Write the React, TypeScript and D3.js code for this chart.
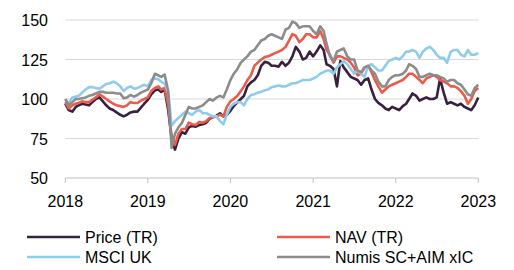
import * as d3 from "d3";

// semi-monthly values, Jan 2018 .. Jan 2023
const price = [
  97, 93, 92, 95, 96, 97, 96.5, 96, 98, 100, 101, 98.5, 96, 94, 93, 91.5, 90, 89, 90, 91.5, 92, 92, 94.5, 97,
  99.5, 103, 105.5, 106, 104.5, 106, 93, 75, 68, 75, 79, 78, 82, 83, 82.5, 83.5, 84, 85, 87.5, 88.5, 89.5, 91, 89, 90,
  92.5, 95.5, 98, 100, 102, 108, 110.5, 112, 115, 121, 123.5, 123, 121, 121, 120.5, 123.5, 121, 123, 127, 133, 130, 125, 126, 130,
  127, 130, 134, 131, 122, 121, 119, 108, 124, 120, 117, 114, 113, 112, 109, 112, 113, 106, 100, 97.5, 96, 94, 93, 95,
  94, 93, 95.5, 97, 100, 103.5, 102, 99, 100, 101, 100, 100, 101, 113, 104, 97, 98, 97, 96, 97, 95, 94, 93, 96,
  101,
];
const nav = [
  98, 94, 96, 97, 97.5, 98.5, 98, 98, 99.5, 101, 103, 101.5, 100, 98.5, 97, 96, 95.5, 95, 96, 98, 97.5, 97.5, 99, 100,
  101, 105, 107, 108, 106, 107, 96, 76, 71, 78, 81, 81, 85, 84, 83.5, 85.5, 85, 86, 88, 88.5, 89, 90, 89, 95,
  98.5, 100, 102, 105, 108, 112, 115, 121, 123, 125, 126.5, 127, 128, 129, 130, 131, 133, 137, 141, 140, 136, 138, 141, 141,
  139, 139, 143, 138, 131, 128, 123, 127, 127, 126, 125, 123, 120, 115, 116, 120, 121, 117, 112, 108, 104, 106, 108, 109,
  110, 111, 112, 114, 116, 116, 114, 112, 110, 113, 114, 115, 114, 112, 111, 110, 108, 108, 107, 105, 102, 97, 100, 105,
  107,
];
const msciUk = [
  100, 97, 101, 101.5, 102, 104, 106, 107.5, 107.5, 107, 106.5, 108, 109.5, 110, 111, 110, 108, 105, 107, 108, 106.5, 107, 108, 109,
  108, 112, 113, 112.5, 111, 109.5, 104, 83, 86, 88, 90, 92, 91, 90, 92, 93, 91, 91, 90, 89, 89, 86, 84, 90,
  95, 97, 98, 98, 96, 100, 102.5, 103, 104, 104.5, 105.5, 106, 107.5, 108, 108.5, 108, 108, 109, 110, 110, 111, 112, 112, 112,
  113, 114, 116, 117, 118, 118, 116, 120, 122, 124, 122, 119, 116, 118, 116, 114, 121, 122, 120, 118, 118, 121, 124, 125,
  126, 125, 127, 130, 130, 131, 130, 126, 130, 132, 133, 131, 128, 126, 126, 123, 130, 131, 131, 128, 127, 131, 128, 128,
  129,
];
const numis = [
  100, 96, 98, 100, 100, 100.5, 101, 102, 102.5, 103.5, 104.5, 104.5, 104, 104, 104, 103.5, 103.5, 100.5, 101, 102.5, 101.5, 102.5, 104, 105,
  106, 110, 116, 115, 114, 115.5, 105, 69, 78, 82, 85, 90, 95, 94, 94, 95, 96, 98, 100, 99, 101, 102, 101, 106,
  112, 116, 119, 123, 125, 127, 130, 131, 134, 137, 138, 140, 141, 140, 139, 138, 144, 145, 149, 148, 145, 146, 146, 146,
  143, 141, 146, 143, 135, 127, 124, 130, 131, 132, 127, 125, 125, 118, 117, 120, 121, 118, 116, 111, 108, 108, 112, 114,
  115, 115, 116, 118, 122, 121, 119, 114, 114, 115, 116, 115, 115, 114, 113, 111, 112, 112, 110, 109, 106, 103, 102, 107,
  109,
];

const yearTicks = [2018, 2019, 2020, 2021, 2022, 2023];
const yTicks = [50, 75, 100, 125, 150];

const dates = price.map((_, i) => new Date(2018, Math.floor(i / 2), i % 2 ? 16 : 1));

const series = [
  { name: "Price (TR)", values: price, color: "#37213f" },
  { name: "NAV (TR)", values: nav, color: "#ec5a4a" },
  { name: "MSCI UK", values: msciUk, color: "#8ecbec" },
  { name: "Numis SC+AIM xIC", values: numis, color: "#8c8c8c" },
];

const W = 514;
const H = 270;
const left = 65.3;
const right = 478.3;
const top = 20;
const bottom = 178;

export default function App() {
  const x = d3
    .scaleTime()
    .domain([new Date(2018, 0, 1), new Date(2023, 0, 1)])
    .range([left, right]);
  const y = d3.scaleLinear().domain([50, 150]).range([bottom, top]);

  const line = d3
    .line<number>()
    .x((_, i) => x(dates[i]))
    .y((d) => y(d));

  const font = "'Liberation Sans', Arial, sans-serif";

  return (
    <svg
      width={W}
      height={H}
      style={{ position: "absolute", left: 0, top: 0, background: "#fff" }}
      fontFamily={font}
    >
      {yTicks.map((t) =>
        t === 50 ? null : (
          <line key={t} x1={left} x2={right} y1={y(t)} y2={y(t)} stroke="#d9d9d9" strokeWidth={1} />
        )
      )}
      <line x1={left} x2={right} y1={bottom} y2={bottom} stroke="#bfbfbf" strokeWidth={1} />
      {yearTicks.map((yr) => {
        const px = x(new Date(yr, 0, 1));
        return (
          <g key={yr}>
            <line x1={px} x2={px} y1={bottom} y2={bottom + 5} stroke="#bfbfbf" strokeWidth={1} />
            <text x={px} y={207} textAnchor="middle" fontSize={16} fill="#000">
              {yr}
            </text>
          </g>
        );
      })}
      {yTicks.map((t) => (
        <text key={t} x={48} y={y(t) + 6} textAnchor="end" fontSize={16} fill="#000">
          {t}
        </text>
      ))}
      {series.map((s) => (
        <path
          key={s.name}
          d={line(s.values) ?? ""}
          fill="none"
          stroke={s.color}
          strokeWidth={2.6}
          strokeLinejoin="round"
        />
      ))}
      {series.map((s, i) => {
        const lx = i % 2 === 0 ? 27 : 277;
        const ly = i < 2 ? 237 : 257;
        return (
          <g key={s.name}>
            <line x1={lx} x2={lx + 53} y1={ly} y2={ly} stroke={s.color} strokeWidth={2.5} />
            <text x={lx + 58} y={ly + 6} fontSize={16} fill="#000">
              {s.name}
            </text>
          </g>
        );
      })}
    </svg>
  );
}
